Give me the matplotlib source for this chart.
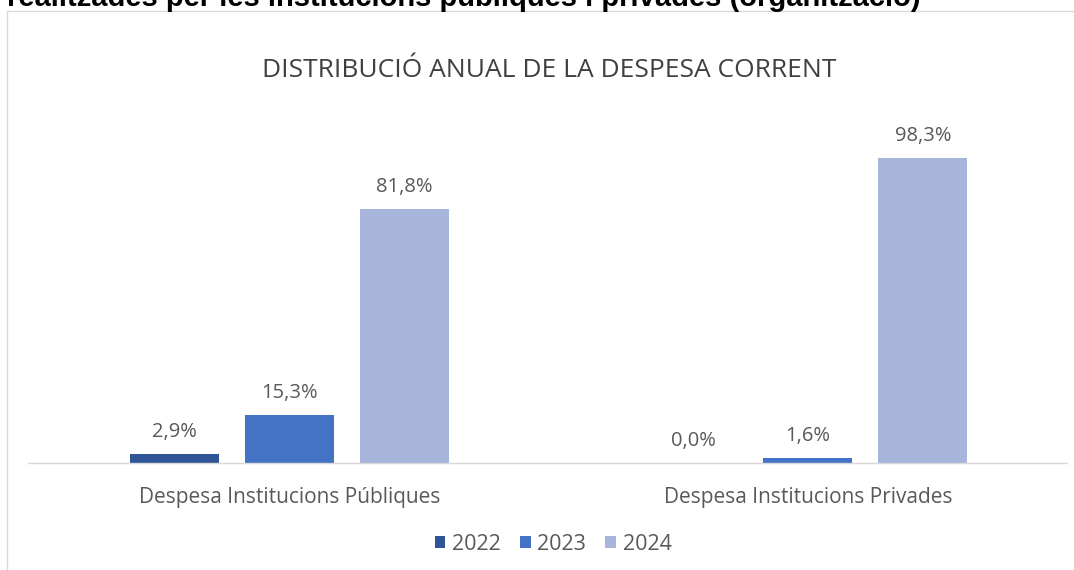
import matplotlib
matplotlib.use("Agg")
import matplotlib.pyplot as plt
from matplotlib.patches import Patch, Rectangle

categories = ["Despesa Institucions Públiques", "Despesa Institucions Privades"]
years = ["2022", "2023", "2024"]
values = {
    "2022": [2.9, 0.0],
    "2023": [15.3, 1.6],
    "2024": [81.8, 98.3],
}
value_labels = {
    "2022": ["2,9%", "0,0%"],
    "2023": ["15,3%", "1,6%"],
    "2024": ["81,8%", "98,3%"],
}
colors = {"2022": "#2F5597", "2023": "#4472C4", "2024": "#A7B5DA"}
title = "DISTRIBUCIÓ ANUAL DE LA DESPESA CORRENT"
header = "realitzades per les institucions públiques i privades (organització)"

W, H = 1074, 570
fig = plt.figure(figsize=(W / 100, H / 100), dpi=100)
font = "Open Sans"
txt_color = "#595959"

# chart border
fig.patches.append(Rectangle((7 / W, -0.05), 1.1, 1 - 11 / H + 0.05, transform=fig.transFigure,
                             fill=False, edgecolor="#D9D9D9", linewidth=1.0))

ax = fig.add_axes([28 / W, (H - 463) / H, (1067 - 28) / W, 310.5 / H])
ax.set_xlim(-0.5043, 1.4996)
ax.set_ylim(0, 100)

step = 0.2218
width = 0.1717
for i, y in enumerate(years):
    xs = [c + (i - 1) * step for c in range(len(categories))]
    ax.bar(xs, values[y], width=width, color=colors[y], zorder=2)
    for x, v, lab in zip(xs, values[y], value_labels[y]):
        ax.annotate(lab, xy=(x, v), xytext=(0, 16.0), textcoords="offset points",
                    ha="center", va="center", fontsize=14.5, color=txt_color, family=font)

for c, name in enumerate(categories):
    ax.annotate(name, xy=(c, 0), xycoords=("data", "axes fraction"), xytext=(0, -25),
                textcoords="offset points", ha="center", va="center", fontsize=15,
                color=txt_color, family=font)

for s in ["top", "right", "left"]:
    ax.spines[s].set_visible(False)
ax.spines["bottom"].set_color("#D9D9D9")
ax.spines["bottom"].set_linewidth(1.0)
ax.set_xticks([])
ax.set_yticks([])
ax.patch.set_alpha(0)

fig.text(549 / W, 1 - 71 / H, title, ha="center", va="center", fontsize=19,
         color="#404040", family=font)

fig.text(7 / W, 1 - 6 / H, header, ha="left", va="baseline", fontsize=21,
         fontweight="bold", color="black", family="Liberation Sans")

handles = [Patch(facecolor=colors[y], edgecolor="none", label=y) for y in years]
fig.legend(handles=handles, loc="center", bbox_to_anchor=(553 / W, 1 - 544 / H), ncol=3,
           frameon=False, prop={"family": font, "size": 15.5}, labelcolor=txt_color,
           handlelength=0.5, handleheight=0.5, handletextpad=0.3, columnspacing=0.9)

fig.savefig("out.png", dpi=100)
